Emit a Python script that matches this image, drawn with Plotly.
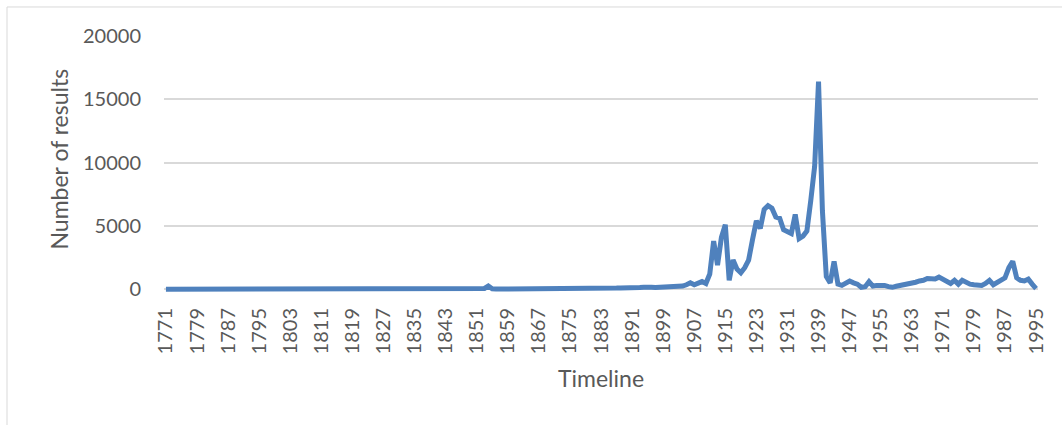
import plotly.graph_objects as go

# Yearly result counts, 1771-1995
years = list(range(1771, 1996))
counts = [
    # 1771-1850
    0, 0, 0, 0, 0, 0, 0, 0, 0, 0,
    0, 0, 0, 0, 0, 0, 0, 0, 0, 0,
    0, 0, 0, 0, 0, 0, 0, 0, 0, 0,
    0, 0, 0, 0, 0, 0, 0, 0, 0, 0,
    0, 0, 0, 0, 0, 0, 0, 0, 0, 0,
    0, 0, 0, 0, 0, 0, 0, 0, 0, 0,
    0, 0, 0, 0, 0, 0, 0, 0, 0, 0,
    0, 0, 0, 0, 0, 0, 0, 0, 0, 0,
    # 1851-1900
    10, 20, 60, 250, 40, 10, 10, 0, 0, 10,
    0, 10, 0, 10, 0, 20, 10, 30, 60, 20,
    10, 0, 10, 20, 10, 0, 20, 30, 10, 20,
    30, 20, 40, 50, 60, 80, 90, 100, 90, 120,
    110, 130, 140, 160, 200, 150, 140, 160, 170, 150,
    # 1901-1950
    170, 160, 200, 250, 350, 500, 350, 450, 600, 450,
    1200, 3800, 1900, 4100, 5100, 700, 2300, 1600, 1300, 1700,
    2300, 3900, 5400, 4800, 6300, 6600, 6400, 5700, 5600, 4700,
    4600, 4400, 5900, 4000, 4200, 4600, 7000, 9700, 16400, 6200,
    1000, 500, 2200, 400, 300, 450, 650, 500, 400, 150,
    # 1951-1995
    200, 600, 250, 300, 350, 300, 200, 150, 230, 280,
    330, 450, 420, 550, 650, 700, 850, 820, 800, 950,
    800, 600, 450, 700, 400, 700, 500, 400, 350, 300,
    300, 450, 700, 350, 550, 650, 900, 1700, 2200, 900,
    700, 650, 800, 400, 50,
]

x_ticks = years[::8]
y_ticks = [0, 5000, 10000, 15000, 20000]

font_family = "Lato, 'Open Sans', sans-serif"
text_color = "#595959"
grid_color = "#d9d9d9"

fig = go.Figure()
fig.add_trace(go.Scatter(
    x=years,
    y=counts,
    mode="lines",
    line=dict(color="#4f81bd", width=5),
    showlegend=False,
    hoverinfo="x+y",
))

W, H = 1062, 425
plot_left, plot_right = 164.0, 1038.0
plot_top, plot_bottom = 36.0, 292.8

fig.update_layout(
    width=W,
    height=H,
    margin=dict(l=plot_left, r=W - plot_right, t=plot_top, b=H - plot_bottom, pad=0),
    paper_bgcolor="white",
    plot_bgcolor="white",
    font=dict(family=font_family, color=text_color, size=20),
    xaxis=dict(
        range=[1770.5, 1995.5],
        tickmode="array",
        tickvals=x_ticks,
        ticktext=[str(v) for v in x_ticks],
        tickangle=-90,
        showgrid=False,
        zeroline=False,
        showline=False,
        ticks="",
        ticklabelstandoff=10,
        tickfont=dict(size=20, color=text_color, family=font_family),
    ),
    yaxis=dict(
        range=[-300, 20000],
        tickmode="array",
        tickvals=y_ticks,
        ticktext=[str(v) for v in y_ticks],
        showgrid=True,
        gridcolor=grid_color,
        gridwidth=1.5,
        zeroline=True,
        zerolinecolor=grid_color,
        zerolinewidth=1.5,
        showline=False,
        ticks="",
        ticklabelstandoff=22,
        tickfont=dict(size=20, color=text_color, family=font_family),
    ),
    annotations=[
        dict(
            text="Number of results",
            xref="paper", yref="paper",
            x=0, y=0.5,
            xanchor="center", yanchor="middle",
            xshift=58 - plot_left, yshift=5,
            textangle=-90,
            showarrow=False,
            font=dict(size=23, color=text_color, family=font_family),
        ),
        dict(
            text="Timeline",
            xref="paper", yref="paper",
            x=0.5, y=0,
            xanchor="center", yanchor="middle",
            yshift=-(378 - plot_bottom),
            showarrow=False,
            font=dict(size=23, color=text_color, family=font_family),
        ),
    ],
)

# Light outer frame of the chart area
pw = plot_right - plot_left
ph = plot_bottom - plot_top
fig.add_shape(
    type="rect",
    xref="paper", yref="paper",
    x0=(7 - plot_left) / pw, x1=(W + 20 - plot_left) / pw,
    y0=(plot_bottom - (H + 20)) / ph, y1=(plot_bottom - 7) / ph,
    line=dict(color=grid_color, width=1),
    fillcolor="rgba(0,0,0,0)",
    layer="below",
)

fig.write_html("out.html")
